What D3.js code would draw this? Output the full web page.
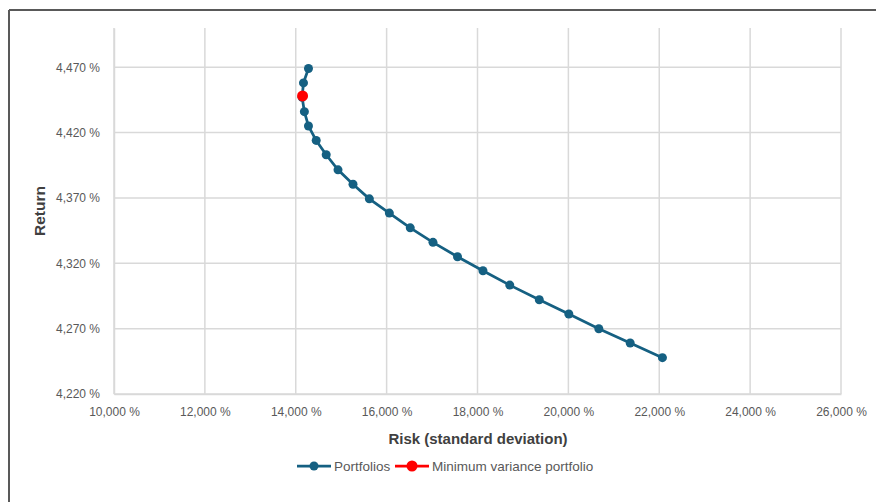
<!DOCTYPE html>
<html><head><meta charset="utf-8">
<script src="https://cdn.jsdelivr.net/npm/d3@7"></script>
<style>
html,body{margin:0;padding:0;background:#fff;}
svg{display:block;font-family:"Liberation Sans","Roboto",sans-serif;}
</style></head><body>
<svg id="c" width="876" height="502"></svg>
<script>
// Data (risk %, return %)
const portfolioRisk = [14.28,14.17,14.14,14.19,14.28,14.45,14.67,14.93,15.26,15.62,16.06,16.52,17.02,17.56,18.12,18.71,19.36,20.01,20.67,21.36,22.07];
const portfolioReturn = [4.469,4.458,4.447,4.436,4.425,4.414,4.403,4.3915,4.3805,4.3693,4.3584,4.3471,4.3360,4.3250,4.3143,4.3033,4.2921,4.2812,4.2699,4.2590,4.2478];
const minVarRisk = [14.15];
const minVarReturn = [4.448];
const xTicks = [10,12,14,16,18,20,22,24,26];
const yTicks = [4.22,4.27,4.32,4.37,4.42,4.47];
const seriesNames = ["Portfolios","Minimum variance portfolio"];
const seriesColors = ["#156082","#ff0000"];

const svg = d3.select("#c");
// outer frame
svg.append("line").attr("x1",9).attr("x2",876).attr("y1",10).attr("y2",10).attr("stroke","#595959").attr("stroke-width",2);
svg.append("line").attr("x1",9).attr("x2",9).attr("y1",10).attr("y2",502).attr("stroke","#595959").attr("stroke-width",2);

const x = d3.scaleLinear().domain([10,26]).range([114,841]);
const y = d3.scaleLinear().domain([4.22,4.50]).range([394,28]);
const fmt = d => d.toFixed(3).replace(".",",") + " %";

// gridlines
const g = svg.append("g");
g.selectAll("line.v").data(xTicks).enter().append("line")
 .attr("x1",d=>x(d)).attr("x2",d=>x(d)).attr("y1",y(4.50)).attr("y2",y(4.22))
 .attr("stroke","#d9d9d9").attr("stroke-width",1.5);
g.selectAll("line.h").data(yTicks).enter().append("line")
 .attr("x1",x(10)).attr("x2",x(26)).attr("y1",d=>y(d)).attr("y2",d=>y(d))
 .attr("stroke","#d9d9d9").attr("stroke-width",1.5);

// axes
const xAxis = d3.axisBottom(x).tickValues(xTicks).tickFormat(fmt).tickSize(0).tickPadding(13);
const xg = svg.append("g").attr("transform",`translate(0,${y(4.22)})`).call(xAxis);
xg.select(".domain").attr("stroke","#d9d9d9").attr("stroke-width",1.5);
xg.selectAll("text").attr("fill","#595959").style("font-size","12px");
const yAxis = d3.axisLeft(y).tickValues(yTicks).tickFormat(fmt).tickSize(0).tickPadding(14);
const yg = svg.append("g").attr("transform",`translate(${x(10)},0)`).call(yAxis);
yg.select(".domain").attr("stroke","#d9d9d9").attr("stroke-width",1.5);
yg.selectAll("text").attr("fill","#595959").style("font-size","12px");

// titles
svg.append("text").attr("x",478).attr("y",444).attr("text-anchor","middle")
 .attr("fill","#404040").style("font-size","15px").style("font-weight","bold").text("Risk (standard deviation)");
svg.append("text").attr("transform","translate(45,211) rotate(-90)").attr("text-anchor","middle")
 .attr("fill","#404040").style("font-size","15.5px").style("font-weight","bold").text("Return");

// portfolios series
const pts = portfolioRisk.map((r,i)=>({r, v:portfolioReturn[i]}));
const line = d3.line().x(d=>x(d.r)).y(d=>y(d.v));
svg.append("path").datum(pts).attr("d",line).attr("fill","none").attr("stroke",seriesColors[0]).attr("stroke-width",2.75);
svg.selectAll("circle.p").data(pts).enter().append("circle")
 .attr("cx",d=>x(d.r)).attr("cy",d=>y(d.v)).attr("r",4.5).attr("fill",seriesColors[0]);
// min variance
const mv = minVarRisk.map((r,i)=>({r, v:minVarReturn[i]}));
svg.selectAll("circle.m").data(mv).enter().append("circle")
 .attr("cx",d=>x(d.r)).attr("cy",d=>y(d.v)).attr("r",5.5).attr("fill",seriesColors[1]);

// legend
const leg = [{x0:297,name:seriesNames[0],c:seriesColors[0],r:4.5},{x0:395,name:seriesNames[1],c:seriesColors[1],r:5.5}];
const lg = svg.append("g");
leg.forEach(l=>{
  lg.append("line").attr("x1",l.x0).attr("x2",l.x0+34).attr("y1",466).attr("y2",466).attr("stroke",l.c).attr("stroke-width",2.75);
  lg.append("circle").attr("cx",l.x0+17).attr("cy",466).attr("r",l.r).attr("fill",l.c);
  lg.append("text").attr("x",l.x0+37).attr("y",470.5).attr("fill","#595959").style("font-size","13.5px").text(l.name);
});
</script>
</body></html>
